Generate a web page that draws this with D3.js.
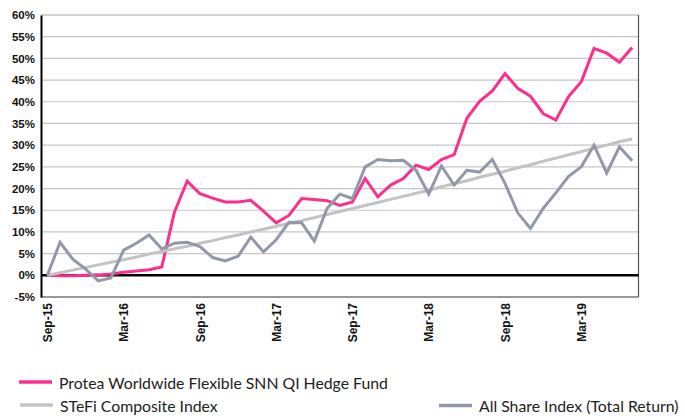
<!DOCTYPE html>
<html>
<head>
<meta charset="utf-8">
<script src="https://cdn.jsdelivr.net/npm/d3@7/dist/d3.min.js"></script>
<style>
  body { margin: 0; background: #fff; }
  svg { display: block; }
</style>
</head>
<body>
<svg id="chart" width="685" height="416"></svg>
<script>
// monthly categories Sep-15 .. Jul-19
var months = ["Sep-15","Oct-15","Nov-15","Dec-15","Jan-16","Feb-16","Mar-16","Apr-16","May-16","Jun-16","Jul-16","Aug-16",
  "Sep-16","Oct-16","Nov-16","Dec-16","Jan-17","Feb-17","Mar-17","Apr-17","May-17","Jun-17","Jul-17","Aug-17",
  "Sep-17","Oct-17","Nov-17","Dec-17","Jan-18","Feb-18","Mar-18","Apr-18","May-18","Jun-18","Jul-18","Aug-18",
  "Sep-18","Oct-18","Nov-18","Dec-18","Jan-19","Feb-19","Mar-19","Apr-19","May-19","Jun-19","Jul-19"];

var tickLabels = ["Sep-15","Mar-16","Sep-16","Mar-17","Sep-17","Mar-18","Sep-18","Mar-19"];
var yTicks = [-0.05,0,0.05,0.1,0.15,0.2,0.25,0.3,0.35,0.4,0.45,0.5,0.55,0.6];

// cumulative returns, %
var protea = [0,-0.1,-0.1,0,0.1,0.3,0.7,1.0,1.3,1.9,14.6,21.7,
  18.8,17.8,16.9,16.9,17.3,14.8,12.1,13.8,17.7,17.5,17.2,16.1,
  16.9,22.3,18.1,20.8,22.3,25.4,24.4,26.7,27.8,36.2,40.1,42.5,
  46.5,43.1,41.3,37.3,35.8,41.2,44.6,52.3,51.2,49.1,52.5];

var stefi = [0,0.6,1.2,1.8,2.4,3.0,3.6,4.2,4.9,5.5,6.1,6.7,
  7.4,8.0,8.7,9.3,10.0,10.6,11.3,12.0,12.6,13.3,14.0,14.7,
  15.4,16.1,16.8,17.5,18.2,18.9,19.6,20.4,21.1,21.8,22.6,23.3,
  24.0,24.8,25.5,26.3,27.0,27.8,28.5,29.3,30.0,30.8,31.4];

var alsi = [0,7.6,3.7,1.5,-1.3,-0.6,5.8,7.4,9.3,6.1,7.4,7.6,
  6.6,4.1,3.3,4.4,8.8,5.4,8.2,12.2,12.1,7.9,15.4,18.7,
  17.7,25.0,26.7,26.4,26.5,24.2,18.7,25.2,20.8,24.2,23.8,26.7,
  21.2,14.4,10.8,15.4,19.0,22.8,25.0,30.0,23.6,29.6,26.4];

var seriesNames = ["Protea Worldwide Flexible SNN QI Hedge Fund","STeFi Composite Index","All Share Index (Total Return)"];
var seriesColors = ["#fb2f8e","#c3c3c3","#9199a8"];

var svg = d3.select("#chart");
var plotLeft = 41, plotRight = 638.5, plotTop = 15, plotBottom = 297;

var x = d3.scalePoint().domain(months).range([plotLeft, plotRight]).padding(0.5);
var y = d3.scaleLinear().domain([-0.05, 0.6]).range([plotBottom, plotTop]);

// gridlines
svg.append("g")
  .selectAll("line")
  .data(yTicks.filter(function(d) { return d > -0.04 && d < 0.59 && Math.abs(d) > 0.001; }))
  .enter().append("line")
  .attr("x1", plotLeft).attr("x2", plotRight)
  .attr("y1", function(d) { return y(d); })
  .attr("y2", function(d) { return y(d); })
  .attr("stroke", "#c6c6c6")
  .attr("stroke-width", 1.2);

// top, right and bottom border
svg.append("line").attr("x1", plotLeft).attr("x2", plotRight).attr("y1", y(0.6)).attr("y2", y(0.6))
  .attr("stroke", "#a8a8a8").attr("stroke-width", 1.2);
svg.append("line").attr("x1", plotRight).attr("x2", plotRight).attr("y1", y(0.6)).attr("y2", y(-0.05))
  .attr("stroke", "#555").attr("stroke-width", 1.2);
svg.append("line").attr("x1", plotLeft).attr("x2", plotRight).attr("y1", y(-0.05)).attr("y2", y(-0.05))
  .attr("stroke", "#333").attr("stroke-width", 1.2);

// zero line
svg.append("line").attr("x1", plotLeft).attr("x2", plotRight).attr("y1", y(0)).attr("y2", y(0))
  .attr("stroke", "#000").attr("stroke-width", 2.4);

// y axis
var yAxis = d3.axisLeft(y).tickValues(yTicks).tickSize(0).tickPadding(6)
  .tickFormat(function(d) { return Math.round(d * 100) + "%"; });
var gy = svg.append("g").attr("transform", "translate(" + plotLeft + ",0)").call(yAxis);
gy.select(".domain").attr("stroke", "#000").attr("stroke-width", 2);
gy.selectAll("text")
  .attr("font-family", "Liberation Sans, Arial, sans-serif")
  .attr("font-size", "11.5px")
  .attr("font-weight", "bold")
  .attr("fill", "#111");

// x axis labels
var xAxis = d3.axisBottom(x).tickValues(tickLabels).tickSize(0).tickPadding(0);
var gx = svg.append("g").attr("transform", "translate(0," + plotBottom + ")").call(xAxis);
gx.select(".domain").remove();
gx.selectAll("text")
  .attr("font-family", "Liberation Sans, Arial, sans-serif")
  .attr("font-size", "12px")
  .attr("font-weight", "bold")
  .attr("fill", "#111")
  .attr("transform", "rotate(-90)")
  .attr("text-anchor", "end")
  .attr("x", -6)
  .attr("y", 0)
  .attr("dy", "0.35em");

// series lines
var line = d3.line()
  .x(function(d, i) { return x(months[i]); })
  .y(function(d) { return y(d / 100); });

[protea, stefi, alsi].forEach(function(s, k) {
  svg.append("path")
    .datum(s)
    .attr("d", line)
    .attr("fill", "none")
    .attr("stroke", seriesColors[k])
    .attr("stroke-width", 3)
    .attr("stroke-linejoin", "miter");
});

// legend
var legendPos = [[19, 382], [20, 405], [439, 405.5]];
var legend = svg.append("g");
seriesNames.forEach(function(name, k) {
  var p = legendPos[k];
  legend.append("line")
    .attr("x1", p[0]).attr("x2", p[0] + 33)
    .attr("y1", p[1]).attr("y2", p[1])
    .attr("stroke", seriesColors[k])
    .attr("stroke-width", 3.5);
  legend.append("text")
    .attr("x", p[0] + 40)
    .attr("y", p[1] + 6.5)
    .attr("font-family", "Lato, sans-serif")
    .attr("font-size", "15.8px")
    .attr("fill", "#222")
    .text(name);
});
</script>
</body>
</html>
